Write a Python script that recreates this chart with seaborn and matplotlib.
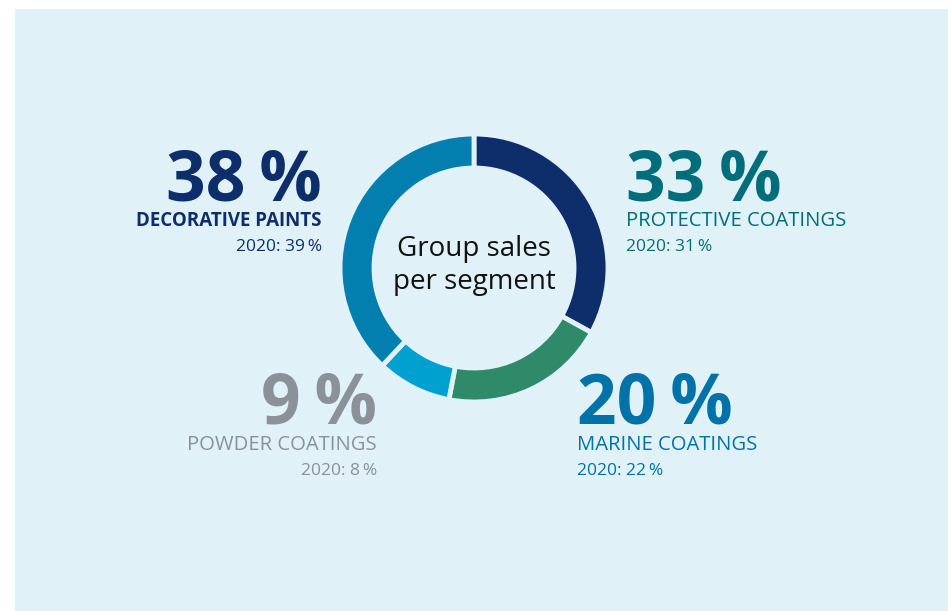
import matplotlib
matplotlib.use("Agg")
import matplotlib.pyplot as plt
import seaborn as sns
from matplotlib.patches import Rectangle

sns.set_theme(style="white")
plt.rcParams['font.family'] = ['Open Sans', 'DejaVu Sans']

# Data
segments = ["PROTECTIVE COATINGS", "MARINE COATINGS", "POWDER COATINGS", "DECORATIVE PAINTS"]
shares = [33, 20, 9, 38]
prior = [31, 22, 8, 39]
wedge_colors = ["#0e2d6b", "#2f8a69", "#00a0d1", "#027fae"]
label_colors = ["#006e7a", "#0072aa", "#8a9198", "#0e2d6b"]
center_title = "Group sales\nper segment"

W, H = 948, 611
BG = "#e0f2f7"

fig = plt.figure(figsize=(W / 100, H / 100), dpi=100)
fig.patch.set_facecolor("white")
fig.add_artist(Rectangle((15 / W, 0), 1 - 15 / W, 1 - 9 / H, transform=fig.transFigure,
                         facecolor=BG, edgecolor="none", zorder=0))

cx, cy, R = 474, 268, 134
ax = fig.add_axes([(cx - R) / W, (H - cy - R) / H, 2 * R / W, 2 * R / H])
ax.pie(shares, colors=wedge_colors, startangle=90, counterclock=False, radius=1,
       wedgeprops=dict(width=34 / R, edgecolor=BG, linewidth=3.5))
ax.set_xlim(-1, 1)
ax.set_ylim(-1, 1)
ax.set_aspect("equal")
ax.axis("off")

ax.text(0, 0.02, center_title, ha="center", va="center", fontsize=20,
        color="#111111", linespacing=1.25)


def px(x, y):
    return x / W, 1 - y / H


# label placements: (x, baseline y of big number, ha, bold subtitle)
place = {
    "PROTECTIVE COATINGS": (626, 200, "left", False),
    "MARINE COATINGS": (577, 424, "left", False),
    "POWDER COATINGS": (377, 424, "right", False),
    "DECORATIVE PAINTS": (322, 200, "right", True),
}

for seg, s, p, c in zip(segments, shares, prior, label_colors):
    x, y, ha, bold = place[seg]
    fig.text(*px(x, y), f"{s}\u2009%", ha=ha, va="baseline", fontsize=50,
             fontweight="bold", color=c)
    fig.text(*px(x, y + 26), seg, ha=ha, va="baseline",
             fontsize=13.5 if bold else 14.6,
             fontweight="bold" if bold else "normal", color=c)
    fig.text(*px(x, y + 51), f"2020: {p}\u2009%", ha=ha, va="baseline",
             fontsize=12.5, color=c)

fig.savefig("out.png", dpi=100, facecolor=fig.get_facecolor())
